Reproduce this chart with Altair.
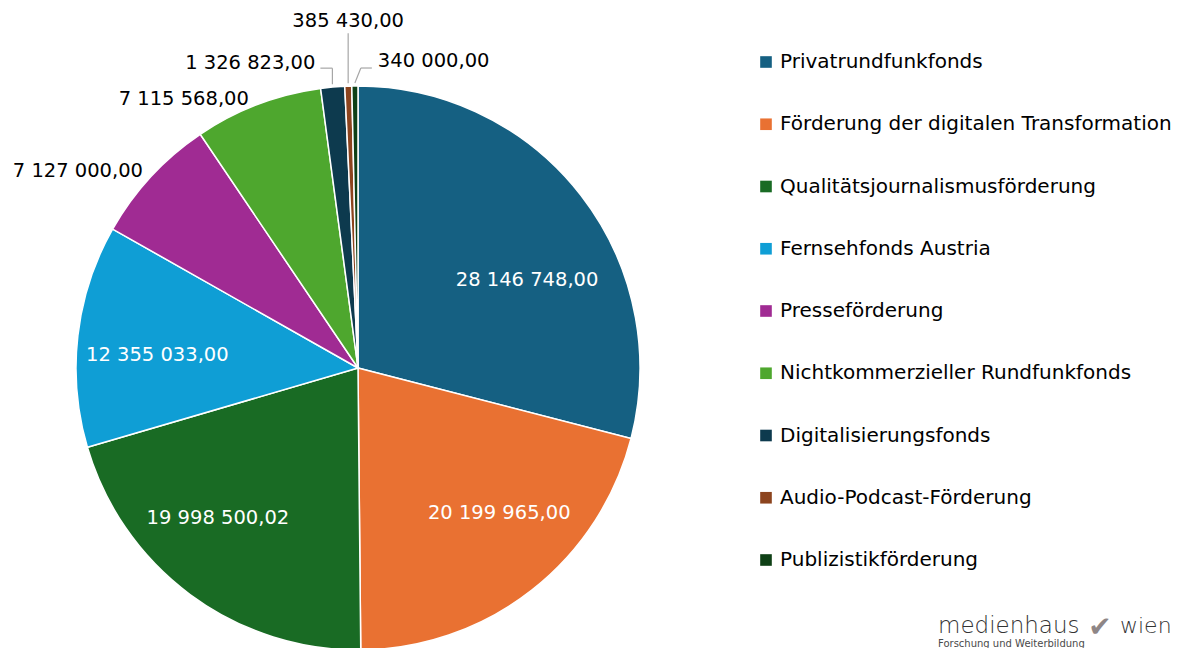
import math
import altair as alt
import pandas as pd

# ---------------- data ----------------
categories = [
    "Privatrundfunkfonds",
    "Förderung der digitalen Transformation",
    "Qualitätsjournalismusförderung",
    "Fernsehfonds Austria",
    "Presseförderung",
    "Nichtkommerzieller Rundfunkfonds",
    "Digitalisierungsfonds",
    "Audio-Podcast-Förderung",
    "Publizistikförderung",
]
values = [28146748.00, 20199965.00, 19998500.02, 12355033.00, 7127000.00,
          7115568.00, 1326823.00, 385430.00, 340000.00]
colors = ["#156082", "#E97132", "#196B24", "#0F9ED5", "#A02B93",
          "#4EA72E", "#0D3A4E", "#8C441E", "#0F4016"]

# ---------------- geometry / style ----------------
W, H = 1172, 640
CX, CY, R = 350, 360, 282
FONT = "DejaVu Sans"

# inside labels: radial distance + fine offset (style)
INSIDE = {
    "Privatrundfunkfonds": (200, 11, 34),
    "Förderung der digitalen Transformation": (200, 18, -13),
    "Qualitätsjournalismusförderung": (200, -21, -11),
    "Fernsehfonds Austria": (200, -2, 10),
}
# outside labels: (radial distance, dx, dy, align, leader offsets relative to slice edge)
OUTSIDE = {
    "Presseförderung": (290, -2, 0, "right", None),
    "Nichtkommerzieller Rundfunkfonds": (290, -6, 2, "right", None),
    "Digitalisierungsfonds": (R + 3, -17, -21, "right", [(0, 0), (0, -16), (-12, -16)]),
    "Audio-Podcast-Förderung": (R + 3, 0, -62, "center", [(0, 0), (0, -50)]),
    "Publizistikförderung": (R + 3, 23, -22, "left", [(0, 0), (6, -15), (17, -15)]),
}


def fmt(v):
    return f"{v:,.2f}".replace(",", " ").replace(".", ",")


total = sum(values)
rows = []
cum = 0.0
for i, (c, v) in enumerate(zip(categories, values)):
    mid = (cum + v / 2) / total * 2 * math.pi
    cum += v
    rows.append(dict(idx=i, category=c, value=v, label=fmt(v), mid=mid))
df = pd.DataFrame(rows)


def polar(a, r):
    return CX + r * math.sin(a), CY - r * math.cos(a)


# label positions derived from slice angles
lab_rows, lead_rows = [], []
for r_ in rows:
    c, a = r_["category"], r_["mid"]
    if c in INSIDE:
        rr, dx, dy = INSIDE[c]
        x, y = polar(a, rr)
        lab_rows.append(dict(category=c, label=r_["label"], x=x + dx, y=y + dy,
                             kind="inside", anchor="center"))
    else:
        rr, dx, dy, al, lead = OUTSIDE[c]
        x, y = polar(a, rr)
        lab_rows.append(dict(category=c, label=r_["label"], x=x + dx, y=y + dy,
                             kind="outside", anchor=al))
        if lead:
            for k in range(len(lead) - 1):
                (ax, ay), (bx, by) = lead[k], lead[k + 1]
                lead_rows.append(dict(category=c, x=x + ax, y=y + ay,
                                      x2=x + bx, y2=y + by))
labels = pd.DataFrame(lab_rows)
leaders = pd.DataFrame(lead_rows)

# ---------------- chart ----------------
pie = alt.Chart(df).mark_arc(radius=R, stroke="white", strokeWidth=1.5).encode(
    theta=alt.Theta("value:Q", stack=True),
    order=alt.Order("idx:Q"),
    color=alt.Color(
        "category:N",
        scale=alt.Scale(domain=categories, range=colors),
        sort=categories,
        legend=alt.Legend(
            title=None, orient="none", legendX=748, legendY=44,
            symbolType="square", symbolSize=135, symbolStrokeWidth=0,
            labelFont=FONT, labelFontSize=20, labelColor="#000000",
            labelOffset=4, labelLimit=600, rowPadding=42.25,
        ),
    ),
    x=alt.value(CX),
    y=alt.value(CY),
)

txt_layers = []
for kind, al, col in [("inside", "center", "white"),
                      ("outside", "right", "black"),
                      ("outside", "center", "black"),
                      ("outside", "left", "black")]:
    sub = labels[(labels["kind"] == kind) & (labels["anchor"] == al)]
    if len(sub) == 0:
        continue
    txt_layers.append(
        alt.Chart(sub).mark_text(align=al, baseline="middle", font=FONT,
                                 fontSize=19.5, color=col).encode(
            x=alt.X("x:Q", scale=None),
            y=alt.Y("y:Q", scale=None),
            text="label:N",
        )
    )

lead = alt.Chart(leaders).mark_rule(color="#A6A6A6", strokeWidth=1.2).encode(
    x=alt.X("x:Q", scale=None), y=alt.Y("y:Q", scale=None),
    x2="x2:Q", y2="y2:Q",
)

logo_main = alt.Chart(pd.DataFrame({"t": ["medienhaus"]})).mark_text(
    align="left", baseline="alphabetic", font="DejaVu Sans", fontSize=23,
    fontWeight=300, color="#333333").encode(x=alt.value(930), y=alt.value(625), text="t:N")
logo_check = alt.Chart(pd.DataFrame({"t": ["✔"]})).mark_text(
    align="center", baseline="alphabetic", font="DejaVu Sans", fontSize=28,
    color="#8e8686").encode(x=alt.value(1092), y=alt.value(628), text="t:N")
logo_wien = alt.Chart(pd.DataFrame({"t": ["wien"]})).mark_text(
    align="left", baseline="alphabetic", font="DejaVu Sans", fontSize=22,
    fontWeight=300, color="#333333").encode(x=alt.value(1112), y=alt.value(625), text="t:N")
logo_sub = alt.Chart(pd.DataFrame({"t": ["Forschung und Weiterbildung"]})).mark_text(
    align="left", baseline="alphabetic", font="DejaVu Sans", fontSize=10,
    color="#4a4a4a").encode(x=alt.value(930), y=alt.value(639), text="t:N")

chart = alt.layer(pie, lead, *txt_layers, logo_main, logo_check, logo_wien, logo_sub).properties(
    width=W, height=H, padding=0,
    autosize=alt.AutoSizeParams(type="none"),
).configure_view(stroke=None)

chart.save("out.html", embed_options={"renderer": "svg", "actions": False})
